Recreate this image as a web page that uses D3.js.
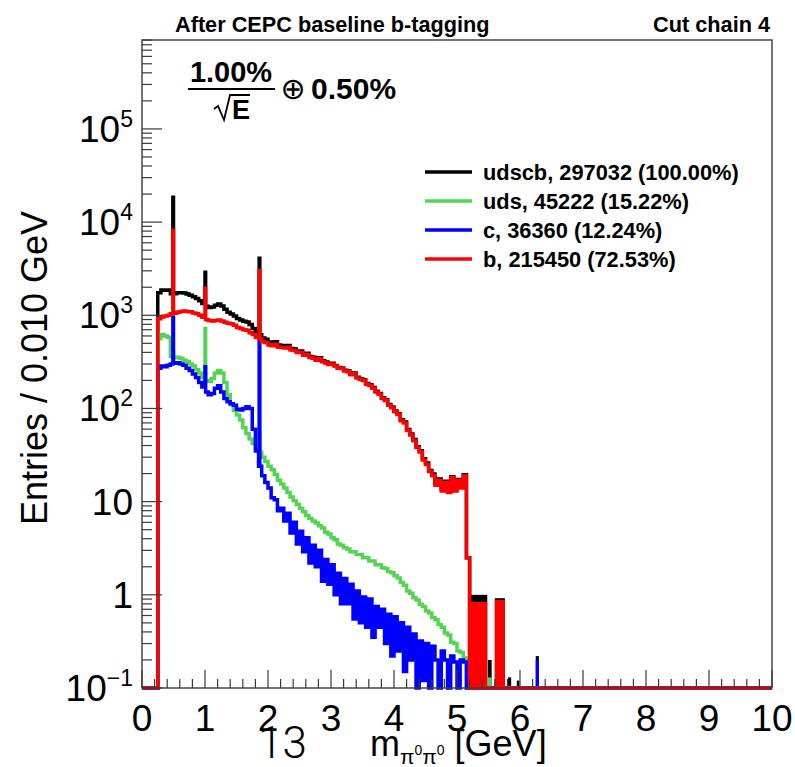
<!DOCTYPE html>
<html>
<head>
<meta charset="utf-8">
<script src="https://cdn.jsdelivr.net/npm/d3@7"></script>
<style>
  body { margin: 0; background: #fff; }
  svg { display: block; }
  text { font-family: "Liberation Sans", Arial, Helvetica, sans-serif; fill: #000; }
</style>
</head>
<body>
<svg id="chart" width="795" height="767"></svg>
<script>
// histogram bins: 0.05 GeV wide, starting at 0.25 GeV (empty elsewhere)
const binStart = 0.25;
const binWidth = 0.05;

const bValues = [
  920, 960, 980, 1000, 1040, 1050, 1080, 1100, 1110, 1100,
  1090, 1060, 1040, 1000, 950, 900, 880, 870, 880, 890,
  870, 840, 820, 810, 780, 740, 720, 700, 690, 650,
  620, 580, 560, 520, 510, 480, 470, 490, 455, 450,
  445, 455, 425, 418, 398, 400, 372, 380, 352, 345,
  330, 342, 318, 308, 296, 300, 285, 270, 268, 252,
  248, 230, 236, 212, 205, 200, 182, 176, 165, 150,
  142, 128, 122, 108, 102, 92, 86, 74, 70, 58,
  52, 45, 38, 34, 28, 25, 21, 19, 15, 17,
  13, 16, 12.5, 18, 13, 17, 14, 19, 2.5
];
const udsValues = [
  560, 620, 600, 580, 360, 350, 355, 345, 330, 320,
  300, 285, 260, 240, 215, 200, 195, 210, 240, 255,
  240, 190, 140, 110, 95, 85, 75, 62, 54, 47,
  42, 38, 34, 30, 27, 24, 22, 19.5, 17, 15.5,
  14, 12.5, 11.2, 10.2, 9.3, 8.5, 7.8, 7.1, 6.6, 6.2,
  5.9, 5.5, 5.2, 4.7, 4.5, 4.1, 3.9, 3.5, 3.4, 3.2,
  3.1, 2.9, 2.9, 2.7, 2.7, 2.5, 2.5, 2.3, 2.3, 2.1,
  2.1, 1.95, 1.92, 1.78, 1.72, 1.6, 1.52, 1.36, 1.27, 1.1,
  1.04, 0.93, 0.88, 0.79, 0.75, 0.67, 0.64, 0.57, 0.54, 0.48,
  0.45, 0.39, 0.37, 0.31, 0.3, 0.25, 0.24, 0.21, 0
];
const cValues = [
  270, 285, 280, 290, 300, 305, 310, 300, 290, 270,
  255, 235, 215, 190, 170, 150, 140, 145, 165, 175,
  150, 128, 118, 112, 108, 98, 96, 100, 104, 100,
  60, 35, 24, 19, 16, 14, 11, 10.5, 8, 8.5,
  6.2, 7.5, 4.6, 6, 3.5, 4.8, 2.9, 4.1, 2.2, 3.4,
  2.0, 3.0, 1.4, 2.4, 1.3, 2.1, 1.0, 1.7, 0.8, 1.5,
  0.8, 1.3, 0.55, 1.1, 0.5, 0.95, 0.45, 0.9, 0.35, 0.75,
  0.45, 0.7, 0.3, 0.62, 0.22, 0.58, 0.25, 0.5, 0.15, 0.45,
  0.2, 0.38, 0, 0.32, 0.12, 0.3, 0, 0.28, 0.2, 0,
  0.25, 0.2, 0, 0.22, 0.19, 0, 0.2, 0.19, 0
];

// narrow resonance spikes (single 0.01 GeV bins)
const spikeMass = [0.49, 1.0, 1.86];
const spikeB = [8200, 1950, 3050];
const spikeUds = [400, 720, 60];
const spikeC = [950, 280, 600];
const spikeAll = [18500, 2900, 4100];

// sparse tail above 5.2 GeV
const tailStart = [5.20, 5.49, 5.60, 5.81, 5.95, 6.25];
const tailEnd = [5.48, 5.55, 5.76, 5.86, 5.99, 6.30];
const tailB = [0.84, 0, 0.88, 0, 0, 0];
const tailUds = [0, 0.13, 0, 0, 0, 0];
const tailC = [0, 0, 0, 0, 0, 0.2];
const tailAll = [1.0, 0.2, 0.92, 0.13, 0.12, 0.22];

const legendLabels = [
  "udscb, 297032 (100.00%)",
  "uds, 45222 (15.22%)",
  "c, 36360 (12.24%)",
  "b, 215450 (72.53%)"
];
const seriesColors = ["#000000", "#55d355", "#0000ff", "#ff0000"];

const xTickValues = [0, 1, 2, 3, 4, 5, 6, 7, 8, 9, 10];
const yTickPowers = [-1, 0, 1, 2, 3, 4, 5];

const frame = { left: 142, right: 772, top: 40, bottom: 688 };

const svg = d3.select("#chart");
svg.append("rect").attr("width", 795).attr("height", 767).attr("fill", "#fff");

const x = d3.scaleLinear().domain([0, 10]).range([frame.left, frame.right]);
const y = d3.scaleLog().domain([0.1, 9e5]).range([frame.bottom, frame.top]).clamp(true);
const yv = (v) => y(Math.max(v, 0.1));

const totalValues = bValues.map((v, i) => v + udsValues[i] + cValues[i]);

function buildSegments(values, spikes) {
  let segs = values.map((v, i) => ({
    x0: binStart + i * binWidth,
    x1: binStart + (i + 1) * binWidth,
    v
  }));
  spikeMass.forEach((m, k) => {
    const idx = segs.findIndex((s) => m >= s.x0 - 1e-9 && m < s.x1 - 1e-9);
    if (idx < 0) return;
    const s = segs[idx];
    const parts = [];
    if (m - s.x0 > 1e-9) parts.push({ x0: s.x0, x1: m, v: s.v });
    parts.push({ x0: m, x1: m + 0.01, v: spikes[k] });
    if (s.x1 - (m + 0.01) > 1e-9) parts.push({ x0: m + 0.01, x1: s.x1, v: s.v });
    segs.splice(idx, 1, ...parts);
  });
  return segs;
}

function stepPath(segs) {
  const p = d3.path();
  p.moveTo(x(0), frame.bottom);
  p.lineTo(x(segs[0].x0), frame.bottom);
  segs.forEach((s) => {
    p.lineTo(x(s.x0), yv(s.v));
    p.lineTo(x(s.x1), yv(s.v));
  });
  p.lineTo(x(segs[segs.length - 1].x1), frame.bottom);
  p.lineTo(x(10), frame.bottom);
  return p.toString();
}

const series = [
  { values: totalValues, spikes: spikeAll, tail: tailAll },
  { values: udsValues, spikes: spikeUds, tail: tailUds },
  { values: cValues, spikes: spikeC, tail: tailC },
  { values: bValues, spikes: spikeB, tail: tailB }
];

const plot = svg.append("g");

series.forEach((s, si) => {
  const color = seriesColors[si];
  plot.selectAll(null)
    .data(tailStart.map((t, i) => ({ x0: t, x1: tailEnd[i], v: s.tail[i] })).filter((d) => d.v > 0))
    .join("rect")
    .attr("x", (d) => x(d.x0))
    .attr("width", (d) => x(d.x1) - x(d.x0))
    .attr("y", (d) => yv(d.v))
    .attr("height", (d) => frame.bottom - yv(d.v))
    .attr("fill", color);

  plot.append("path")
    .attr("d", stepPath(buildSegments(s.values, s.spikes)))
    .attr("fill", "none")
    .attr("stroke", color)
    .attr("stroke-width", 3.5)
    .attr("stroke-linejoin", "miter");
});

// frame
svg.append("rect")
  .attr("x", frame.left).attr("y", frame.top)
  .attr("width", frame.right - frame.left).attr("height", frame.bottom - frame.top)
  .attr("fill", "none").attr("stroke", "#3a3a3a").attr("stroke-width", 1.4);

// x ticks (inside, pointing up)
const xMinor = d3.range(0, 10.001, 0.2);
svg.append("g").selectAll("line")
  .data(xMinor)
  .join("line")
  .attr("x1", (d) => x(d)).attr("x2", (d) => x(d))
  .attr("y1", frame.bottom)
  .attr("y2", (d) => frame.bottom - (Math.abs(d - Math.round(d)) < 1e-6 ? 18 : 9))
  .attr("stroke", "#3a3a3a").attr("stroke-width", 1.2);

svg.append("g").selectAll("text")
  .data(xTickValues)
  .join("text")
  .attr("x", (d) => x(d))
  .attr("y", 731)
  .attr("text-anchor", "middle")
  .attr("font-size", 37)
  .text((d) => d);

// y ticks (inside, pointing right)
const yMinor = [];
for (let p = -1; p <= 5; p++) {
  for (let m = 1; m <= 9; m++) {
    const v = m * Math.pow(10, p);
    if (v <= 9e5) yMinor.push({ v, major: m === 1 });
  }
}
svg.append("g").selectAll("line")
  .data(yMinor)
  .join("line")
  .attr("x1", frame.left)
  .attr("x2", (d) => frame.left + (d.major ? 20 : 10))
  .attr("y1", (d) => y(d.v)).attr("y2", (d) => y(d.v))
  .attr("stroke", "#3a3a3a").attr("stroke-width", 1.2);

const yLabels = svg.append("g").selectAll("text")
  .data(yTickPowers)
  .join("text")
  .attr("x", 133)
  .attr("y", (d) => y(Math.pow(10, d)) + 13)
  .attr("text-anchor", "end")
  .attr("font-size", 37);
yLabels.each(function (d) {
  const t = d3.select(this);
  if (d === 0) { t.text("1"); return; }
  if (d === 1) { t.text("10"); return; }
  t.append("tspan").text("10");
  t.append("tspan").attr("font-size", 23).attr("dy", -15).text(d < 0 ? "\u2212" + (-d) : d);
});

// axis titles
svg.append("text")
  .attr("transform", "translate(47,368) rotate(-90)")
  .attr("text-anchor", "middle")
  .attr("font-size", 36)
  .text("Entries / 0.010 GeV");

const xt = svg.append("text").attr("x", 370).attr("y", 756).attr("font-size", 36);
xt.append("tspan").text("m");
xt.append("tspan").attr("font-size", 21).attr("dy", 8).text("\u03c0");
xt.append("tspan").attr("font-size", 14).attr("dy", -9).text("0");
xt.append("tspan").attr("font-size", 21).attr("dy", 9).text("\u03c0");
xt.append("tspan").attr("font-size", 14).attr("dy", -9).text("0");
xt.append("tspan").attr("dy", 1).text(" [GeV]");

svg.append("text")
  .attr("x", 258).attr("y", 758)
  .attr("font-size", 44)
  .style("font-family", "Roboto, 'Liberation Sans', sans-serif")
  .attr("font-weight", 300)
  .text("13");

// header
svg.append("text").attr("x", 175).attr("y", 32)
  .attr("font-size", 21.7).attr("font-weight", "bold")
  .text("After CEPC baseline b-tagging");
svg.append("text").attr("x", 770).attr("y", 32)
  .attr("text-anchor", "end")
  .attr("font-size", 21.7).attr("font-weight", "bold")
  .text("Cut chain 4");

// resolution formula
const f = svg.append("g");
f.append("text").attr("x", 231).attr("y", 82)
  .attr("text-anchor", "middle").attr("font-size", 29).attr("font-weight", "bold")
  .text("1.00%");
f.append("line").attr("x1", 188).attr("x2", 275).attr("y1", 89).attr("y2", 89)
  .attr("stroke", "#000").attr("stroke-width", 2);
f.append("path")
  .attr("d", "M214,109 L218,106 L224,120 L230,95 L250,95")
  .attr("fill", "none").attr("stroke", "#000").attr("stroke-width", 1.8);
f.append("text").attr("x", 232).attr("y", 119)
  .attr("font-size", 27).attr("font-weight", "bold")
  .text("E");
f.append("text").attr("x", 293).attr("y", 99)
  .attr("text-anchor", "middle").attr("font-size", 30)
  .style("font-family", "'DejaVu Sans', sans-serif")
  .text("\u2295");
f.append("text").attr("x", 311).attr("y", 99)
  .attr("font-size", 30).attr("font-weight", "bold")
  .text("0.50%");

// legend
const legendY = [172, 201, 230, 259];
const lg = svg.append("g");
legendLabels.forEach((label, i) => {
  lg.append("line")
    .attr("x1", 425).attr("x2", 472)
    .attr("y1", legendY[i]).attr("y2", legendY[i])
    .attr("stroke", seriesColors[i]).attr("stroke-width", 3.5);
  lg.append("text")
    .attr("x", 483).attr("y", legendY[i] + 7.5)
    .attr("font-size", 21.8).attr("font-weight", "bold")
    .text(label);
});
</script>
</body>
</html>
